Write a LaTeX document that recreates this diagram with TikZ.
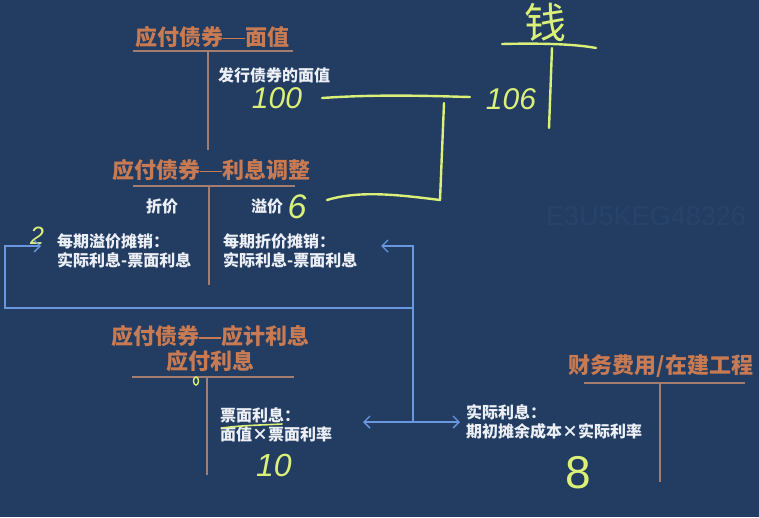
\documentclass[tikz,border=0pt]{standalone}
\usepackage{fontspec}
\setmainfont{Noto Sans CJK SC}
\newfontfamily\hand{Liberation Sans}
\usetikzlibrary{arrows.meta}

\definecolor{board}{RGB}{34,60,98}
\definecolor{title}{RGB}{200,122,82}
\definecolor{rule}{RGB}{165,125,110}
\definecolor{chalk}{RGB}{236,240,246}
\definecolor{link}{RGB}{105,152,222}
\definecolor{pen}{RGB}{218,240,120}
\definecolor{mark}{RGB}{40,67,106}

% full-width dash between account name parts
\newcommand\acctdash{\rule[0.27em]{1em}{0.08em}}

\tikzset{
  acct/.style={font=\bfseries\fontsize{22}{25}\selectfont, text=title, inner sep=0pt},
  note/.style={font=\bfseries\fontsize{16}{19}\selectfont, text=chalk, inner sep=0pt, align=left},
  tline/.style={draw=rule, line width=2pt},
  linkline/.style={draw=link, line width=1.4pt},
  tip/.style={-{Straight Barb[length=6pt,width=12pt,line width=1.4pt]}},
  ink/.style={draw=pen, line width=2.4pt, line cap=round, line join=round},
  digits/.style={font=\hand\itshape, text=pen, inner sep=0pt},
}

\begin{document}
\begin{tikzpicture}[x=1pt,y=-1pt]
  \fill[board] (0,0) rectangle (759,517);
  \useasboundingbox (0,0) rectangle (759,517);

  % faint watermark
  \node[font=\hand\fontsize{27}{27}\selectfont, text=mark, anchor=west, inner sep=0pt] (wm) at (546,216) {E3U5KEG48326};

  % ---- T-account: bonds payable, face value
  \node[acct] (face) at (212,37) {应付债券\acctdash 面值};
  \draw[tline] (133,51) coordinate (faceL) -- (293,51) coordinate (faceR);
  \draw[tline] (208,51) coordinate (faceT) -- (208,150) coordinate (faceB);
  \node[note] (issue) at (274,75) {发行债券的面值};
  \node[digits, font=\hand\itshape\fontsize{30}{30}\selectfont] (v100) at (277,98) {100};

  % ---- T-account: bonds payable, interest adjustment
  \node[acct] (adj) at (211,170) {应付债券\acctdash 利息调整};
  \draw[tline] (133,186) coordinate (adjL) -- (295,186) coordinate (adjR);
  \draw[tline] (209,187) coordinate (adjT) -- (209,285) coordinate (adjB);
  \node[note] (disc) at (162,206) {折价};
  \node[note] (prem) at (267,206) {溢价};
  \node[digits, font=\hand\itshape\fontsize{34}{34}\selectfont] (v6) at (297,207) {6};
  \node[digits, font=\hand\itshape\fontsize{25}{25}\selectfont] (v2) at (37,236) {2};
  \node[note, anchor=west] (premAm) at (57,251) {每期溢价摊销：\\实际利息-票面利息};
  \node[note, anchor=west] (discAm) at (223,251) {每期折价摊销：\\实际利息-票面利息};

  % ---- T-account: accrued interest / interest payable
  \node[acct, align=center] (accr) at (210,349) {应付债券\acctdash 应计利息\\应付利息};
  \draw[tline] (132,377) coordinate (accrL) -- (294,377) coordinate (accrR);
  \draw[tline] (207,378) coordinate (accrT) -- (207,475) coordinate (accrB);
  \node[note, anchor=west] (coupon) at (220,425) {票面利息：\\面值×票面利率};
  \node[digits, font=\hand\itshape\fontsize{32}{32}\selectfont] (v10) at (274,465) {10};

  % ---- T-account: finance cost / construction in progress
  \node[acct] (fin) at (661,366) {财务费用/在建工程};
  \draw[tline] (584,383) coordinate (finL) -- (745,383) coordinate (finR);
  \draw[tline] (660,384) coordinate (finT) -- (660,482) coordinate (finB);
  \node[note, anchor=west] (effect) at (466,422) {实际利息：\\期初摊余成本×实际利率};
  \node[digits, font=\hand\fontsize{46}{46}\selectfont] (v8) at (578,473) {8};

  % ---- cash account (handwritten)
  \node[font=\fontsize{42}{42}\selectfont, text=pen, inner sep=0pt] (cash) at (545,22) {钱};
  \draw[ink] (502,44) coordinate (cashL) .. controls (540,43) and (575,44) .. (596,48) coordinate (cashR);
  \draw[ink] (552,48) coordinate (cashT) -- (549,128) coordinate (cashB);
  \node[digits, font=\hand\itshape\fontsize{30}{30}\selectfont] (v106) at (511,99) {106};

  % handwritten bracket joining 100 and 6 to 106
  \coordinate (b1) at (322,98);
  \coordinate (b2) at (470,97);
  \coordinate (b3) at (444,103);
  \coordinate (b4) at (440,200);
  \coordinate (b5) at (327,200);
  \draw[ink] (b1) .. controls (380,94) and (430,96) .. (b2);
  \draw[ink] (b3) -- (b4) .. controls (400,195) and (360,190) .. (b5);
  % pen marks
  \draw[ink, line width=1.6pt] (222,428) .. controls (245,425) and (265,425) .. (282,424);
  \draw[draw=pen, line width=1.4pt] (196,381) ellipse (2.5pt and 4pt);

  % ---- links between interest amounts
  \coordinate (hub) at (413,422);
  \coordinate (split) at (413,308);
  \coordinate (rightTop) at (413,246);
  \coordinate (leftBot) at (5,308);
  \coordinate (leftTop) at (5,246);
  \coordinate (lt) at (363,422);
  \coordinate (rt) at (460,422);
  \draw[linkline, {Straight Barb[length=6pt,width=12pt,line width=1.4pt]}-{Straight Barb[length=6pt,width=12pt,line width=1.4pt]}] (lt) -- (rt);
  \draw[linkline, tip] (hub) -- (rightTop) -- (381,246);
  \draw[linkline, tip] (split) -- (leftBot) -- (leftTop) -- (41,246);
\end{tikzpicture}
\end{document}
